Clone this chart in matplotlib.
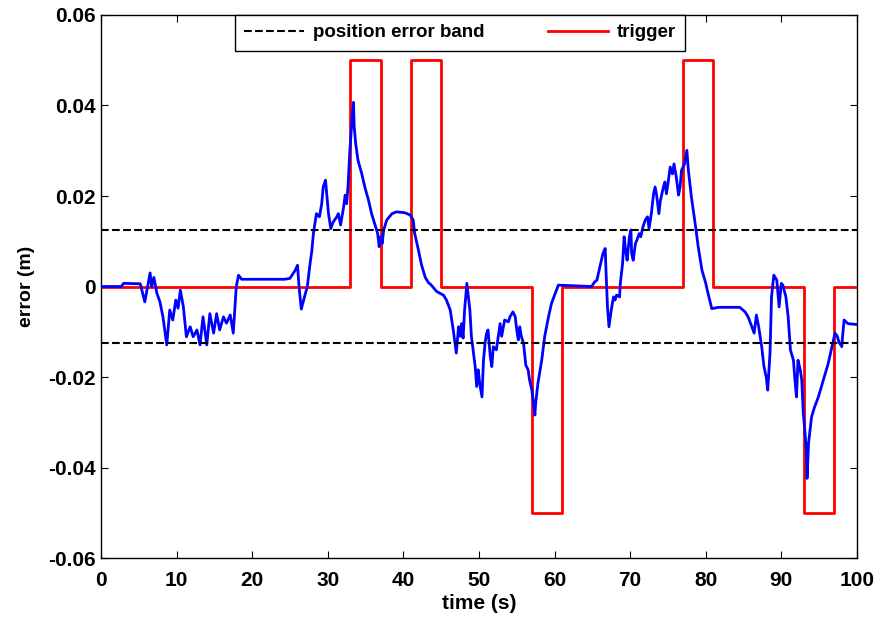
import numpy as np
import matplotlib
matplotlib.use("Agg")
import matplotlib.pyplot as plt

plt.rcParams['font.family'] = ['Liberation Sans', 'DejaVu Sans']
plt.rcParams['font.weight'] = 'bold'

# tracking error over time
t_err = [0.0, 2.7, 3.0, 5.2, 5.8, 6.5, 6.7, 7.0, 7.4, 7.8, 8.2, 8.7, 9.1, 9.5, 9.9,
         10.2, 10.5, 10.9, 11.3, 11.8, 12.2, 12.7, 13.1, 13.5, 14.0, 14.4, 14.9,
         15.3, 15.7, 16.2, 16.6, 17.1, 17.5, 17.9, 18.2, 18.6, 24.3, 25.0, 25.7,
         26.0, 26.2, 26.5, 27.0, 27.3, 27.6, 27.9, 28.1, 28.3, 28.5, 28.9, 29.2,
         29.4, 29.7, 29.9, 30.1, 30.4, 30.7, 31.2, 31.4, 31.7, 32.1, 32.3, 32.5,
         32.7, 32.9, 33.1, 33.2, 33.4, 33.5, 33.7, 34.0, 34.5, 34.9, 35.4, 35.8,
         36.2, 36.6, 36.8, 37.0, 37.2, 37.4, 37.8, 38.5, 39.1, 40.2, 40.9, 41.3,
         41.5, 42.0, 42.4, 42.9, 43.3, 43.7, 44.4, 45.3, 45.7, 46.2, 46.6, 47.0,
         47.3, 47.5, 47.7, 47.9, 48.1, 48.4, 48.6, 48.8, 49.0, 49.5, 49.7, 49.9,
         50.1, 50.4, 50.6, 50.8, 51.0, 51.2, 51.5, 51.7, 51.9, 52.3, 52.8, 53.0,
         53.4, 53.9, 54.1, 54.5, 54.8, 55.0, 55.2, 55.4, 55.6, 55.9, 56.2, 56.5,
         56.7, 57.0, 57.2, 57.4, 57.5, 57.8, 58.3, 58.7, 59.2, 59.6, 60.1, 60.5,
         64.9, 65.3, 65.6, 66.0, 66.4, 66.7, 66.8, 67.0, 67.2, 67.5, 67.8, 68.0,
         68.2, 68.6, 68.7, 69.0, 69.2, 69.4, 69.6, 69.9, 70.1, 70.2, 70.4, 70.7,
         70.9, 71.2, 71.4, 71.7, 72.0, 72.3, 72.5, 72.8, 73.1, 73.3, 73.5, 73.8,
         74.0, 74.4, 74.6, 74.8, 75.0, 75.3, 75.6, 75.8, 76.1, 76.4, 76.6, 76.8,
         77.2, 77.5, 77.7, 78.1, 78.6, 79.0, 79.5, 80.0, 80.3, 80.8, 81.7, 84.5,
         85.2, 85.6, 86.1, 86.4, 86.7, 87.0, 87.4, 87.7, 88.0, 88.2, 88.5, 88.7,
         89.0, 89.4, 89.7, 90.0, 90.2, 90.6, 90.9, 91.2, 91.6, 91.8, 92.0, 92.2,
         92.5, 92.7, 92.9, 93.1, 93.3, 93.4, 93.6, 93.8, 94.0, 94.4, 94.9, 95.3,
         95.8, 96.2, 96.6, 96.9, 97.1, 97.4, 97.6, 98.0, 98.1, 98.3, 98.8, 100.0]
err = [0.0, 0.0, 0.0007, 0.0006, -0.0034, 0.003, 0.0, 0.002, -0.0015, -0.0034,
       -0.0067, -0.0129, -0.0052, -0.0074, -0.003, -0.0048, -0.0008, -0.0045,
       -0.0111, -0.0089, -0.0111, -0.0096, -0.0129, -0.0067, -0.0129, -0.006,
       -0.0103, -0.006, -0.0096, -0.0067, -0.0081, -0.0063, -0.0103, 0.0, 0.0025,
       0.0016, 0.0016, 0.0018, 0.0036, 0.0047, 0.0, -0.005, -0.0018, 0.0, 0.0043,
       0.008, 0.0117, 0.0139, 0.0161, 0.0154, 0.0183, 0.022, 0.0235, 0.0197,
       0.0161, 0.0128, 0.0142, 0.0154, 0.0161, 0.0136, 0.0176, 0.0202, 0.0183,
       0.0227, 0.0294, 0.0345, 0.0367, 0.0407, 0.0353, 0.0315, 0.0279, 0.0249,
       0.022, 0.019, 0.0161, 0.0139, 0.0117, 0.0088, 0.011, 0.0095, 0.0125,
       0.0147, 0.0161, 0.0165, 0.0163, 0.0158, 0.0147, 0.0117, 0.008, 0.0048,
       0.002, 0.0009, 0.0003, -0.0011, -0.0019, -0.003, -0.0052, -0.0096, -0.0147,
       -0.0089, -0.011, -0.0082, -0.0114, -0.0052, 0.0007, -0.0023, -0.0052,
       -0.011, -0.0177, -0.0221, -0.0184, -0.0214, -0.0244, -0.0163, -0.0126,
       -0.0104, -0.0096, -0.0155, -0.0177, -0.0133, -0.014, -0.0082, -0.011,
       -0.0074, -0.0078, -0.0067, -0.0056, -0.0067, -0.0096, -0.0118, -0.0089,
       -0.011, -0.0126, -0.0174, -0.0184, -0.0207, -0.0229, -0.0255, -0.0284,
       -0.0258, -0.0214, -0.0163, -0.011, -0.0067, -0.0037, -0.0015, 0.0003,
       0.0, 0.001, 0.0014, 0.0043, 0.0073, 0.0084, 0.0036, -0.0045, -0.0089,
       -0.0052, -0.0023, -0.003, -0.0019, -0.0023, 0.0007, 0.0051, 0.011, 0.008,
       0.0058, 0.011, 0.0125, 0.0073, 0.0058, 0.0095, 0.0103, 0.0117, 0.011,
       0.0132, 0.0147, 0.0154, 0.0128, 0.0161, 0.0205, 0.022, 0.0202, 0.0161,
       0.019, 0.022, 0.0231, 0.0205, 0.0227, 0.0264, 0.0249, 0.0271, 0.0242,
       0.0202, 0.022, 0.0257, 0.0271, 0.0301, 0.0257, 0.0198, 0.0139, 0.0088,
       0.0036, 0.0007, -0.0015, -0.0049, -0.0046, -0.0046, -0.0056, -0.0067,
       -0.0089, -0.0103, -0.0063, -0.0089, -0.0133, -0.0177, -0.02, -0.0229,
       -0.0147, -0.0023, 0.0025, 0.0014, -0.0045, 0.0007, 0.0003, -0.0023,
       -0.0067, -0.014, -0.0163, -0.0207, -0.0244, -0.0163, -0.0184, -0.0207,
       -0.028, -0.0317, -0.0361, -0.0424, -0.0346, -0.0317, -0.0288, -0.0266,
       -0.0244, -0.0221, -0.0192, -0.017, -0.014, -0.0118, -0.0103, -0.011,
       -0.0122, -0.0133, -0.011, -0.0074, -0.0082, -0.0084]

# trigger signal: switch times and the level held after each switch
trig_t = [0, 33, 37, 41, 45, 57, 61, 77, 81, 93, 97, 100]
trig_level = [0, 0.05, 0, 0.05, 0, -0.05, 0, 0.05, 0, -0.05, 0, 0]

band = 0.0125

x_ticks = [0, 10, 20, 30, 40, 50, 60, 70, 80, 90, 100]
y_ticks = [-0.06, -0.04, -0.02, 0, 0.02, 0.04, 0.06]
y_tick_labels = ['-0.06', '-0.04', '-0.02', '0', '0.02', '0.04', '0.06']

fig = plt.figure(figsize=(8.81, 6.17), dpi=100)
ax = fig.add_axes([0.1146, 0.0956, 0.8581, 0.8801])

trig_line, = ax.step(trig_t, trig_level, where='post', color='red', lw=2, zorder=2)
ax.plot(t_err, err, color='blue', lw=2, zorder=3)
band_line, = ax.plot([0, 100], [band, band], 'k--', lw=1.5, zorder=4)
ax.plot([0, 100], [-band, -band], 'k--', lw=1.5, zorder=4)

ax.set_xlim(0, 100)
ax.set_ylim(-0.06, 0.06)
ax.set_xticks(x_ticks)
ax.set_yticks(y_ticks)
ax.set_yticklabels(y_tick_labels)
ax.tick_params(direction='in', top=True, right=True, labelsize=15, length=5, width=0.8)
ax.tick_params(axis='x', pad=9)
for s in ax.spines.values():
    s.set_linewidth(1.0)

ax.set_xlabel('time (s)', fontsize=15, fontweight='bold', labelpad=3)
ax.set_ylabel('error (m)', fontsize=14, fontweight='bold', labelpad=10)

leg = ax.legend([band_line, trig_line], ['position error band', 'trigger'],
                loc='upper center', bbox_to_anchor=(0.475, 1.0), ncol=2,
                fontsize=13.5, handlelength=3.2, handletextpad=0.45,
                columnspacing=3.4, borderpad=0.5, borderaxespad=0,
                fancybox=False, framealpha=1)
leg.get_frame().set_edgecolor('black')
leg.get_frame().set_linewidth(1.0)

fig.savefig('out.png', dpi=100)
